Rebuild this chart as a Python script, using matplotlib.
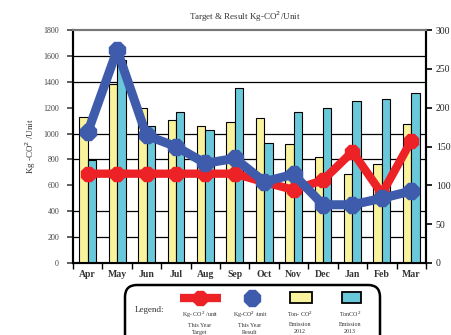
import numpy as np
import matplotlib
matplotlib.use("Agg")
import matplotlib.pyplot as plt
from matplotlib.patches import FancyBboxPatch, Rectangle
from matplotlib.lines import Line2D

plt.rcParams["font.family"] = ["Liberation Serif", "DejaVu Serif"]

months = ["Apr", "May", "Jun", "Jul", "Aug", "Sep", "Oct", "Nov", "Dec", "Jan", "Feb", "Mar"]

# Kg-CO2 per unit (left axis)
target_kg = [690, 690, 690, 690, 690, 690, 625, 565, 640, 860, 535, 945]
result_kg = [1010, 1645, 985, 900, 770, 808, 628, 685, 450, 450, 500, 556]

# Ton-CO2 emission (right axis)
emission_2012 = [188, 231, 200, 184, 177, 181, 187, 153, 136, 114, 127, 179]
emission_2013 = [133, 261, 176, 194, 171, 225, 154, 195, 200, 209, 211, 219]

RED = "#ec2227"
BLUE = "#3f5bab"
YELLOW = "#f9f39d"
CYAN = "#69c8d9"

fig = plt.figure(figsize=(4.52, 3.35), dpi=100)
ax = fig.add_axes([73 / 452, 72 / 335, 353 / 452, 233 / 335])
ax2 = ax.twinx()
ax.set_zorder(ax2.get_zorder() + 1)
ax.patch.set_visible(False)

x = np.arange(len(months))
bw = 0.285

# bars on the right axis
ax2.bar(x - bw / 2, emission_2012, bw, color=YELLOW, edgecolor="black", linewidth=0.8, zorder=3)
ax2.bar(x + bw / 2, emission_2013, bw, color=CYAN, edgecolor="black", linewidth=0.8, zorder=3)
ax2.set_ylim(0, 300)
ax2.set_yticks(np.arange(0, 301, 50))
ax2.set_yticks(np.linspace(0, 300, 10), minor=True)
ax2.set_axisbelow(True)
ax2.grid(which="minor", axis="y", color="black", linewidth=0.9)
ax2.grid(which="major", axis="x", color="black", linewidth=0.9)
ax2.tick_params(axis="y", which="minor", length=0)
ax2.tick_params(axis="y", which="major", length=4, width=1.2, labelsize=7, pad=3,
                labelcolor="#222222")

# lines on the left axis
ax.plot(x, target_kg, color=RED, linewidth=6, marker="8", markersize=11,
        solid_joinstyle="round", zorder=4)
ax.plot(x, result_kg, color=BLUE, linewidth=6.5, marker="8", markersize=12.5,
        solid_joinstyle="round", zorder=5)
ax.set_ylim(0, 1800)
ax.set_yticks(np.arange(0, 1801, 200))
ax.set_xlim(-0.5, len(months) - 0.5)
ax.set_xticks(np.arange(-0.5, len(months), 1.0))
ax.set_xticklabels([])
ax.set_xticks(x, minor=True)
ax.set_xticklabels(months, minor=True, fontsize=7, fontweight="bold", color="#333333")
ax.tick_params(axis="x", which="minor", length=0, pad=5)
ax.tick_params(axis="x", which="major", length=4, width=1.0)
ax.tick_params(axis="y", length=4, width=1.2, labelsize=5.8, colors="#444444", pad=6)
ax.set_ylabel("Kg -CO$^2$ /Unit", fontsize=6.5, color="#333333", labelpad=4)

for a in (ax, ax2):
    for s in a.spines.values():
        s.set_linewidth(1.5)
    a.spines["top"].set_color("#777777")

fig.text(245 / 452, 1 - 17 / 335, "Target & Result Kg-CO$^2$/Unit", ha="center", va="center",
         fontsize=6.5, color="#333333")

# legend box along the bottom edge
tr = fig.dpi_scale_trans
fig.patches.append(FancyBboxPatch((1.25, -0.2), 2.55, 0.70, boxstyle="round,pad=0,rounding_size=0.12",
                                  transform=tr, facecolor="white", edgecolor="black", linewidth=1.8))
fig.text(1.35, 0.25, "Legend:", transform=tr, fontsize=6.5, va="center", color="#333333")
fig.lines.append(Line2D([1.80, 2.00, 2.21], [0.367, 0.367, 0.367], transform=tr, color=RED,
                        linewidth=6, marker="8", markersize=11, markevery=[1],
                        solid_capstyle="butt"))
fig.lines.append(Line2D([2.52], [0.367], transform=tr, color=BLUE, marker="8", markersize=12.5))
fig.patches.append(Rectangle((2.90, 0.32), 0.22, 0.11, transform=tr, facecolor=YELLOW,
                             edgecolor="black", linewidth=1.3))
fig.patches.append(Rectangle((3.42, 0.32), 0.19, 0.11, transform=tr, facecolor=CYAN,
                             edgecolor="black", linewidth=1.3))
labels = [(2.00, "Kg- CO$^2$ /unit\nThis Year\nTarget"),
          (2.50, "Kg-CO$^2$ /unit\nThis Year\nResult"),
          (3.00, "Ton- CO$^2$\nEmission\n2012"),
          (3.50, "TonCO$^2$\nEmission\n2013")]
for lx, txt in labels:
    fig.text(lx, 0.25, txt, transform=tr, fontsize=4.3, ha="center", va="top",
             linespacing=1.6, color="#333333")

fig.savefig("out.png", dpi=100)
